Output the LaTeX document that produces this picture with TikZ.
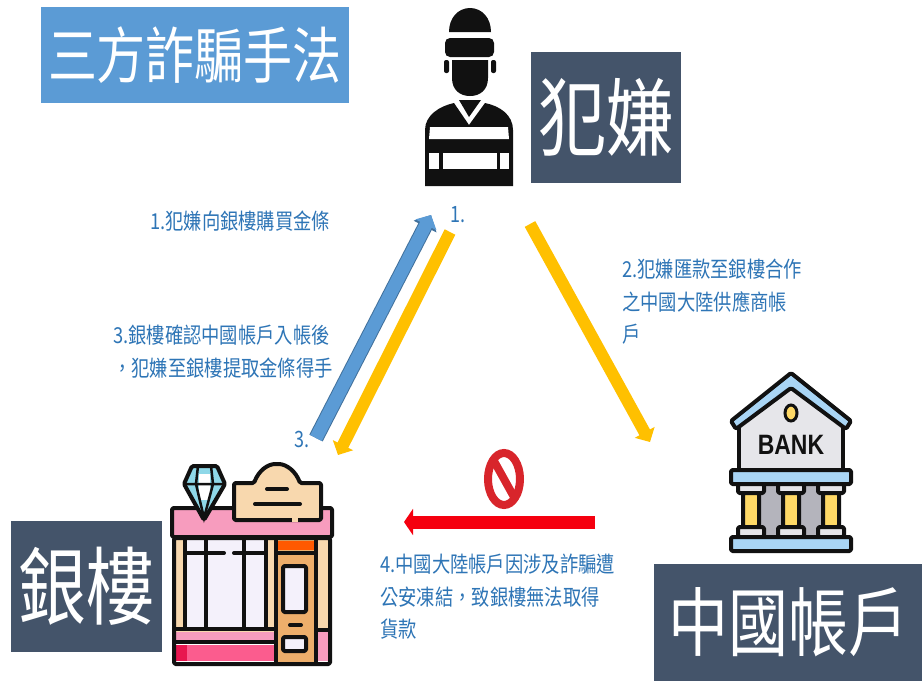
\documentclass[tikz,border=0pt]{standalone}
\usepackage{graphicx}
\usepackage{fontspec}
\setmainfont{Noto Sans CJK TC}
\newfontfamily\latinb{Liberation Sans}
\usetikzlibrary{arrows.meta}
\definecolor{titleblue}{HTML}{5B9BD5}
\definecolor{slate}{HTML}{44546A}
\definecolor{captionblue}{HTML}{2E75B6}
\definecolor{arrowblue}{HTML}{5B9BD5}
\definecolor{arrowedge}{HTML}{41719C}
\definecolor{arrowyellow}{HTML}{FFC000}
\definecolor{arrowred}{HTML}{F5000F}
\definecolor{signred}{HTML}{D8252B}
\definecolor{ink}{HTML}{111111}
\definecolor{roofpink}{HTML}{F79CBE}
\definecolor{deeppink}{HTML}{FB5C8E}
\definecolor{darkpink}{HTML}{E8164F}
\definecolor{sand}{HTML}{F8D8AE}
\definecolor{doorbrown}{HTML}{EDAE6B}
\definecolor{paleglass}{HTML}{F4F1FB}
\definecolor{bankblue}{HTML}{A9D5F5}
\definecolor{bankwall}{HTML}{E6E6EA}
\definecolor{bankgrey}{HTML}{B4B4BC}
\definecolor{bankgold}{HTML}{FFD966}
\definecolor{gemblue}{HTML}{8FD8E8}
\newcommand{\tall}[2][0pt]{\raisebox{#1}{\scalebox{1}[1.25]{#2}}}
\tikzset{
  title/.style={fill=titleblue,text=white,inner sep=0pt,font=\fontsize{49pt}{49pt}\selectfont},
  bigbox/.style={fill=slate,text=white,inner sep=0pt},
  caption/.style={text=captionblue,align=left,anchor=north west,inner sep=0pt,yscale=1.2,font=\fontsize{18.3pt}{27pt}\selectfont},
  num/.style={text=captionblue,inner sep=0pt,yscale=1.25,font=\fontsize{18pt}{18pt}\selectfont},
  icon/.style={draw=ink,line width=4pt,line join=round,rounded corners=1.5pt},
}
\begin{document}
\begin{tikzpicture}[x=1pt,y=-1pt]
\useasboundingbox (0,0) rectangle (922,681);
\fill[white] (0,0) rectangle (922,681);
% boxes
\node[title,minimum width=308pt,minimum height=96pt] (titlebox) at (195,55) {\tall[2pt]{三方詐騙手法}};
\node[bigbox,minimum width=150pt,minimum height=131pt,font=\fontsize{68pt}{68pt}\selectfont] (suspect) at (606,117.5) {\tall{犯嫌}};
\node[bigbox,minimum width=151pt,minimum height=131pt,font=\fontsize{68pt}{68pt}\selectfont] (shop) at (86.5,586.5) {\tall{銀樓}};
\node[bigbox,minimum width=268pt,minimum height=117pt,font=\fontsize{60pt}{60pt}\selectfont] (account) at (788,622.5) {\tall[-3pt]{中國帳戶}};
% thief
\fill[ink] (449,32) .. controls (449,18) and (458,8) .. (470,8) .. controls (482,8) and (491,18) .. (491,32) -- cycle;
\fill[ink,rounded corners=5pt] (445,38) rectangle (494,57);
\fill[ink] (452,60) -- (488,60) -- (488,78) .. controls (488,90) and (480,96) .. (470,96) .. controls (460,96) and (452,90) .. (452,78) -- cycle;
\fill[ink,rounded corners=2pt] (444,60) rectangle (449,73);
\fill[ink,rounded corners=2pt] (491,60) rectangle (496,73);
\fill[ink] (425,186) -- (425,130) .. controls (425,115) and (440,106) .. (454,103) -- (469,125) -- (485,103) .. controls (500,106) and (513,115) .. (513,130) -- (513,186) -- cycle;
\fill[ink] (459,100) -- (469,117) -- (481,100) -- cycle;
\fill[white] (430,127) -- (508,127) -- (509,139) -- (429,139) -- cycle;
\fill[white] (429,153) rectangle (439,169);
\fill[white] (443,153) rectangle (497,169);
\fill[white] (500,153) rectangle (509,169);
% shop
\fill[sand] (174,538) rectangle (330,635);
\fill[paleglass] (186,540) rectangle (267,627);
\fill[doorbrown] (276,538) rectangle (316,664);
\fill[orange!70!red] (278,541) rectangle (314,550);
\fill[roofpink] (175,632) rectangle (274,640);
\fill[deeppink] (175,645) rectangle (274,661);
\fill[darkpink] (175,645) rectangle (187,661);
\fill[roofpink] (316,630) rectangle (328,661);
\draw[icon] (174,538) rectangle (330,664);
\draw[icon] (185,538) -- (185,628);
\draw[icon] (206,538) -- (206,628);
\draw[icon] (244,538) -- (244,628);
\draw[icon] (266,538) -- (266,628);
\draw[icon,line cap=round] (186,553) -- (224,553);
\draw[icon,line cap=round] (234,553) -- (265,553);
\draw[icon] (174,629) -- (276,629);
\draw[icon] (174,642) -- (276,642);
\draw[icon] (276,538) -- (276,664);
\draw[icon] (316,538) -- (316,664);
\draw[icon] (276,553) -- (316,553);
\draw[icon] (316,630) -- (330,630);
\draw[icon,fill=paleglass] (283,566) rectangle (306,612);
\draw[icon,line cap=round] (290,625) -- (301,625);
\draw[icon,fill=paleglass] (283,637) rectangle (306,651);
\draw[icon,fill=roofpink] (172,508) rectangle (332,537);
\fill[gemblue] (192,466) -- (217,466) -- (225,484) -- (204,520) -- (184,484) -- cycle;
\fill[white] (199,474) rectangle (210,500);
\draw[icon] (192,466) -- (217,466) -- (225,484) -- (204,520) -- (184,484) -- cycle;
\draw[ink,line width=2.5pt] (184,484) -- (225,484) (198,466) -- (196,484) -- (204,518) -- (213,484) -- (211,466);
\draw[icon,fill=sand] (234,483) -- (254,483) .. controls (259,470) and (268,464) .. (277,464) .. controls (287,464) and (296,472) .. (300,483) -- (321,483) -- (321,520) -- (234,520) -- cycle;
\draw[ink,line width=4pt,line cap=round] (267,489) -- (287,489) (255,504) -- (300,504);
\draw[sand,line width=4pt] (292,520) -- (298,520);
% bank
\fill[bankwall] (739,425) -- (791,386) -- (843,425) -- (843,470) -- (739,470) -- cycle;
\fill[bankgrey] (752,484) rectangle (830,538);
\draw[icon] (739,425) -- (739,470) (843,425) -- (843,470);
\draw[icon,fill=bankblue] (791,373) -- (851,421) -- (846,429) -- (791,388) -- (736,429) -- (731,421) -- cycle;
\draw[ink,line width=3pt,fill=bankgold] (791,413) ellipse (6pt and 8pt);
\node[font=\latinb\bfseries\fontsize{28pt}{28pt}\selectfont,text=ink,inner sep=0pt,xscale=.82] (banklabel) at (791,445) {BANK};
\draw[icon,fill=bankblue] (731,470) rectangle (851,484);
\foreach \cx in {751,791,831}{
  \draw[icon,fill=bankwall] (\cx-13,484) rectangle (\cx+13,493);
  \draw[icon,fill=bankgold] (\cx-8,493) rectangle (\cx+8,527);
  \draw[icon,fill=bankwall] (\cx-13,527) rectangle (\cx+13,537);
}
\draw[icon,fill=bankblue] (731,537) rectangle (851,551);
% no-entry sign
\draw[draw=signred,line width=8pt,fill=white] (504,479) ellipse (16pt and 26pt);
\draw[signred,line width=8pt] (494,461) -- (514,497);
% connectors
\coordinate (a1s) at (316,438); \coordinate (a1e) at (431,215);
\coordinate (a2s) at (450,232); \coordinate (a2e) at (338,455);
\coordinate (a3s) at (530,224); \coordinate (a3e) at (650,442);
\coordinate (a4s) at (595,522); \coordinate (a4e) at (404,522);
\draw[line width=15pt,draw=arrowedge,-{Triangle[length=13pt,width=25pt,fill=arrowblue]}] (a1s) -- (a1e);
\draw[line width=13pt,draw=arrowblue,-{Triangle[length=11pt,width=23pt,fill=arrowblue]}] (a1s) -- (a1e);
\draw[line width=12pt,draw=arrowyellow,-{Triangle[length=11pt,width=22pt]}] (a2s) -- (a2e);
\draw[line width=12pt,draw=arrowyellow,-{Triangle[length=11pt,width=22pt]}] (a3s) -- (a3e);
\draw[line width=13pt,draw=arrowred,-{Triangle[length=9pt,width=26pt]}] (a4s) -- (a4e);
% captions
\node[caption] (c1) at (150,211) {1.犯嫌向銀樓購買金條};
\node[caption,text width=190pt] (c2) at (622,259) {2.犯嫌匯款至銀樓合作\\之中國大陸供應商帳\\戶};
\node[caption,text width=230pt] (c3) at (113,325) {3.銀樓確認中國帳戶入帳後\\，犯嫌至銀樓提取金條得手};
\node[caption,text width=240pt] (c4) at (380,554) {4.中國大陸帳戶因涉及詐騙遭\\公安凍結，致銀樓無法取得\\貨款};
\node[num] (n1) at (458,215) {1.};
\node[num] (n3) at (302,439) {3.};
\end{tikzpicture}
\end{document}
